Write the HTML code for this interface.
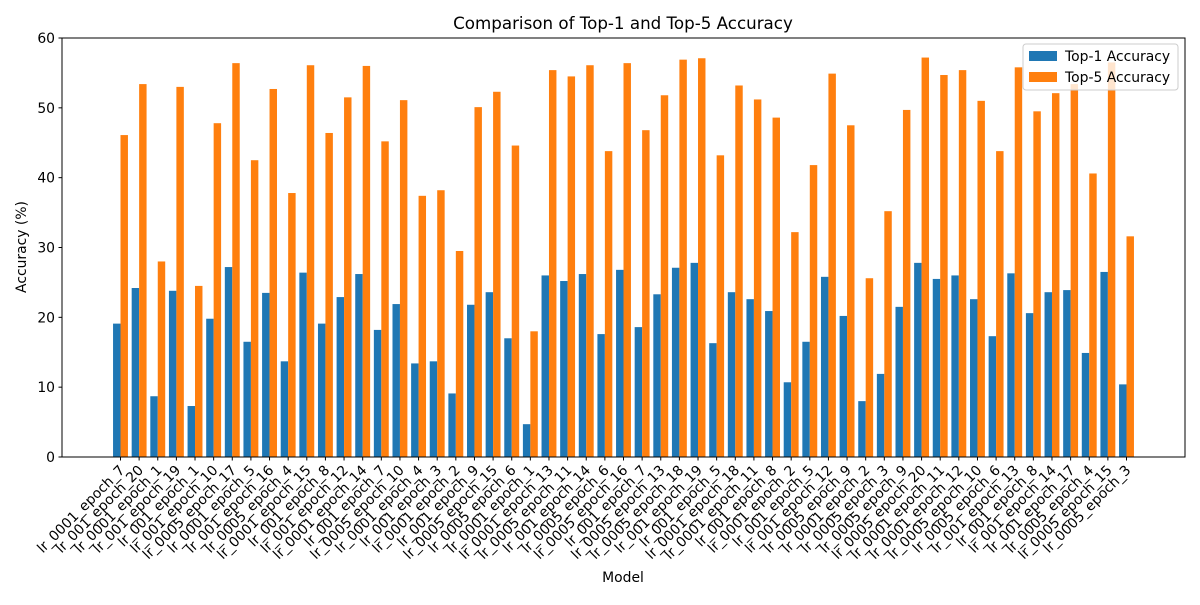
<!DOCTYPE html>
<html><head><meta charset="utf-8"><style>body{margin:0;background:#fff}svg{font-family:"DejaVu Sans","Liberation Sans",sans-serif}</style></head>
<body>
<svg id="chart" width="1200" height="600" xmlns="http://www.w3.org/2000/svg">
<rect width="1200" height="600" fill="#fff"/>
<text x="623" y="29" font-size="16.7" text-anchor="middle">Comparison of Top-1 and Top-5 Accuracy</text>
<g id="bars"></g><g id="xticks"></g><g id="yticks"></g>
<rect x="62" y="38" width="1123" height="419" fill="none" stroke="#000" stroke-width="1"/>
<text transform="translate(26,247) rotate(-90)" font-size="13.9" text-anchor="middle">Accuracy (%)</text>
<text x="623" y="582" font-size="13.9" text-anchor="middle">Model</text>
<g>
<rect x="1023" y="44" width="155" height="46" fill="#fff" fill-opacity="0.8" stroke="#ccc" rx="3"/>
<rect x="1029" y="51" width="28" height="10" fill="#1f77b4"/>
<text x="1065" y="61" font-size="13.9">Top-1 Accuracy</text>
<rect x="1029" y="72" width="28" height="10" fill="#ff7f0e"/>
<text x="1065" y="82" font-size="13.9">Top-5 Accuracy</text>
</g>
</svg>
<script>
const categories=["lr_0001_epoch_7","lr_001_epoch_20","lr_0001_epoch_1","lr_001_epoch_19","lr_001_epoch_1","lr_001_epoch_10","lr_0005_epoch_17","lr_0001_epoch_5","lr_001_epoch_16","lr_0005_epoch_4","lr_0001_epoch_15","lr_001_epoch_8","lr_001_epoch_12","lr_0001_epoch_14","lr_001_epoch_7","lr_0005_epoch_10","lr_0001_epoch_4","lr_001_epoch_3","lr_0001_epoch_2","lr_001_epoch_9","lr_0005_epoch_15","lr_0005_epoch_6","lr_0001_epoch_1","lr_0001_epoch_13","lr_0005_epoch_11","lr_001_epoch_14","lr_0005_epoch_6","lr_0005_epoch_16","lr_001_epoch_7","lr_0005_epoch_13","lr_0005_epoch_18","lr_001_epoch_19","lr_001_epoch_5","lr_0001_epoch_18","lr_0001_epoch_11","lr_001_epoch_8","lr_0001_epoch_2","lr_001_epoch_5","lr_001_epoch_12","lr_0005_epoch_9","lr_0001_epoch_2","lr_0005_epoch_3","lr_0005_epoch_9","lr_0005_epoch_20","lr_0001_epoch_11","lr_0001_epoch_12","lr_0005_epoch_10","lr_0005_epoch_6","lr_001_epoch_13","lr_001_epoch_8","lr_001_epoch_14","lr_001_epoch_17","lr_0005_epoch_4","lr_0005_epoch_15","lr_0005_epoch_3"];
const top1=[19.1,24.2,8.7,23.8,7.3,19.8,27.2,16.5,23.5,13.7,26.4,19.1,22.9,26.2,18.2,21.9,13.4,13.7,9.1,21.8,23.6,17.0,4.7,26.0,25.2,26.2,17.6,26.8,18.6,23.3,27.1,27.8,16.3,23.6,22.6,20.9,10.7,16.5,25.8,20.2,8.0,11.9,21.5,27.8,25.5,26.0,22.6,17.3,26.3,20.6,23.6,23.9,14.9,26.5,10.4];
const top5=[46.1,53.4,28.0,53.0,24.5,47.8,56.4,42.5,52.7,37.8,56.1,46.4,51.5,56.0,45.2,51.1,37.4,38.2,29.5,50.1,52.3,44.6,18.0,55.4,54.5,56.1,43.8,56.4,46.8,51.8,56.9,57.1,43.2,53.2,51.2,48.6,32.2,41.8,54.9,47.5,25.6,35.2,49.7,57.2,54.7,55.4,51.0,43.8,55.8,49.5,52.1,53.4,40.6,56.5,31.6];
const yTicks=[0,10,20,30,40,50,60];
const NS="http://www.w3.org/2000/svg";
const L=62,R=1185,T=38,B=457,yMax=60;
const n=categories.length,w=0.4;
const span=(n-1)+2*w,pad=span*0.05,xmin=-w-pad,xmax=n-1+w+pad;
const X=v=>L+(v-xmin)/(xmax-xmin)*(R-L);
const Y=v=>B-v/yMax*(B-T);
const unit=(R-L)/(xmax-xmin);
function mk(tag,attrs,parent){const e=document.createElementNS(NS,tag);for(const k in attrs)e.setAttribute(k,attrs[k]);parent.appendChild(e);return e;}
const gb=document.getElementById('bars'),gx=document.getElementById('xticks'),gy=document.getElementById('yticks');
categories.forEach((c,i)=>{
  const b1=mk('rect',{x:X(i-w),y:Y(top1[i]),width:w*unit,height:B-Y(top1[i]),fill:'#1f77b4'},gb);
  
  
  const b5=mk('rect',{x:X(i),y:Y(top5[i]),width:w*unit,height:B-Y(top5[i]),fill:'#ff7f0e'},gb);
  
  
  const x=X(i);
  mk('line',{x1:x,x2:x,y1:B,y2:B+3.5,stroke:'#000'},gx);
  const t=mk('text',{'font-size':'13.9','text-anchor':'end',transform:`translate(${x+5},${B+14}) rotate(-45)`},gx);
  t.textContent=c;
  
  
});
yTicks.forEach(v=>{
  const y=Y(v);
  mk('line',{x1:L-3.5,x2:L,y1:y,y2:y,stroke:'#000'},gy);
  const t=mk('text',{x:L-7,y:y+5,'font-size':'13.9','text-anchor':'end'},gy);
  t.textContent=v;
  
  
});
</script>
</body></html>
